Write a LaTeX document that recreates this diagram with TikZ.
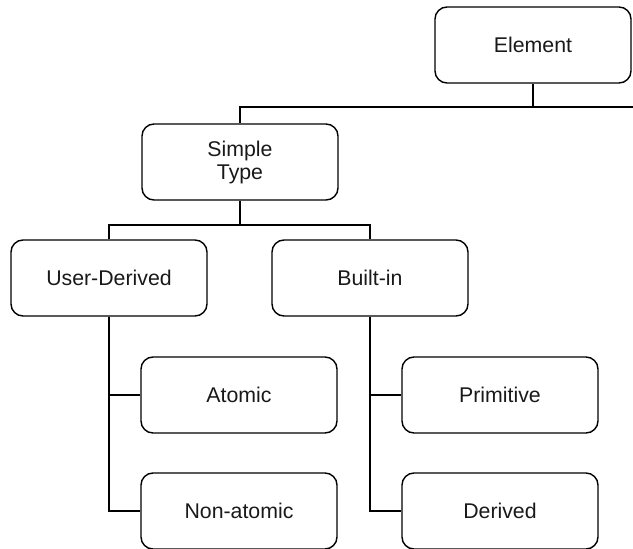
\documentclass[tikz,border=0pt]{standalone}
\usepackage{fontspec}
\setmainfont{Liberation Sans}
\begin{document}
\begin{tikzpicture}[x=1pt,y=-1pt,
  box/.style={draw, line width=1.4pt, rounded corners=12pt,
    minimum width=196pt, minimum height=76pt, align=center,
    font=\fontsize{21.3}{23}\selectfont, text=black!90},
  link/.style={line width=1.4pt}]
  \useasboundingbox (0,0) rectangle (633,549);
  % boxes
  \node[box] (elem) at (533,45) {Element};
  \node[box] (simple) at (240,162) {Simple\\Type};
  \node[box] (user) at (109,278) {User-Derived};
  \node[box] (built) at (370,278) {Built-in};
  \node[box] (atomic) at (239,395) {Atomic};
  \node[box] (nonatomic) at (239,511) {Non-atomic};
  \node[box] (prim) at (500,395) {Primitive};
  \node[box] (derived) at (500,511) {Derived};
  % branch points
  \coordinate (rootbar) at (533,107);
  \coordinate (rootend) at (640,107);
  \coordinate (typebar) at (240,225);
  % Element to Simple Type
  \draw[link] (elem.south) -- (rootbar);
  \draw[link] (simple.north) |- (rootend);
  % Simple Type to its two kinds
  \draw[link] (simple.south) -- (typebar);
  \draw[link] (user.north) |- (typebar) -| (built.north);
  % User-Derived children
  \draw[link] (user.south) |- (atomic.west);
  \draw[link] (user.south) |- (nonatomic.west);
  % Built-in children
  \draw[link] (built.south) |- (prim.west);
  \draw[link] (built.south) |- (derived.west);
\end{tikzpicture}
\end{document}
